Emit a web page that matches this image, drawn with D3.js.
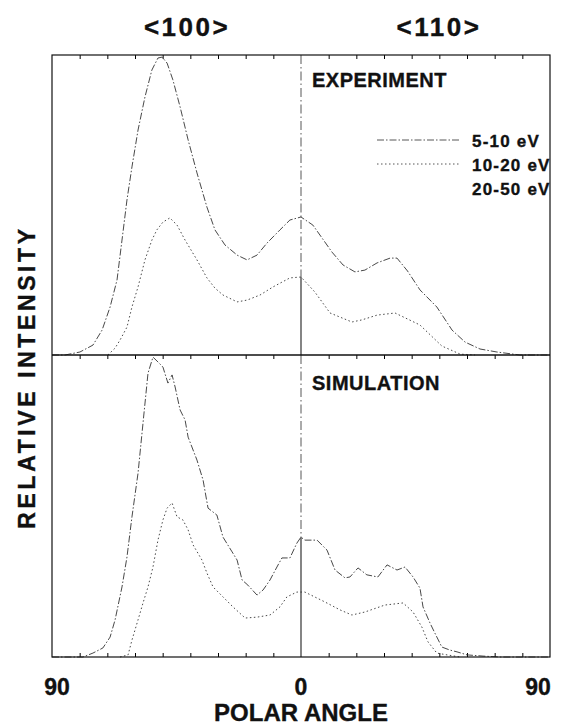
<!DOCTYPE html>
<html>
<head>
<meta charset="utf-8">
<script src="https://cdn.jsdelivr.net/npm/d3@7"></script>
<style>
  body { margin: 0; background: #fff; }
  text { font-family: "Liberation Sans", Arial, sans-serif; font-weight: bold; fill: #111; stroke: #111; stroke-width: 0.35px; }
</style>
</head>
<body>
<svg id="chart" width="563" height="726"></svg>
<script>
// labels
var directions = ["<100>", "<110>"];
var panelNames = ["EXPERIMENT", "SIMULATION"];
var energyBands = ["5-10 eV", "10-20 eV", "20-50 eV"];
var minorTicks = [-80, -70, -60, -50, -40, -30, -20, -10, 10, 20, 30, 40, 50, 60, 70, 80];
var labelTicks = [-90, 0, 90];

// [polar angle (deg, <100> side negative), relative intensity]
var exp510 = [[-90,0],[-85.3,0],[-79.9,0.01],[-75.2,0.033],[-71.9,0.083],[-69,0.16],[-66.5,0.25],
  [-64.7,0.383],[-62.9,0.517],[-61.1,0.627],[-58.9,0.75],[-56.4,0.86],[-53.9,0.95],[-51.7,0.99],
  [-50.2,0.993],[-48.4,0.973],[-46.3,0.917],[-43.7,0.827],[-40.8,0.717],[-37.6,0.607],[-34,0.493],
  [-31.1,0.417],[-27.5,0.367],[-23.1,0.333],[-19.5,0.317],[-15.9,0.333],[-12.3,0.373],[-7.6,0.417],
  [-4,0.45],[0,0.46],[4.3,0.433],[7.6,0.39],[11.2,0.343],[15.2,0.3],[19.5,0.277],[23.1,0.283],
  [27.5,0.307],[32.2,0.323],[34.7,0.323],[38.5,0.28],[43,0.217],[49.1,0.16],[54.6,0.083],[59.3,0.043],
  [64.7,0.02],[70.8,0.01],[79.1,0],[90,0]];
var exp1020 = [[-69.8,0],[-67.2,0.023],[-65.4,0.05],[-62.9,0.093],[-61.1,0.16],[-58.9,0.227],
  [-56.4,0.317],[-53.9,0.383],[-52.1,0.417],[-49.9,0.443],[-47.4,0.457],[-44.8,0.433],[-41.9,0.383],
  [-37.6,0.317],[-34,0.257],[-31.1,0.223],[-28.2,0.2],[-23.1,0.177],[-19.5,0.183],[-14.8,0.2],
  [-10.1,0.227],[-4,0.257],[0,0.26],[5,0.21],[10.5,0.14],[18.4,0.11],[22,0.117],[27.5,0.133],
  [34,0.14],[43,0.1],[50.9,0.03],[57.5,0.003],[62.9,0]];
var sim510 = [[-90,0],[-78.8,0],[-75.2,0.013],[-71.6,0.03],[-69,0.066],[-67.2,0.123],[-64.7,0.232],
  [-62.9,0.331],[-61.1,0.464],[-58.9,0.609],[-57.1,0.775],[-55.3,0.94],[-53.5,0.993],[-51.7,0.977],
  [-49.9,0.96],[-48.1,0.907],[-46.6,0.934],[-45.5,0.894],[-43.7,0.818],[-41.9,0.785],[-40.8,0.728],
  [-37.6,0.652],[-35.4,0.586],[-33.6,0.493],[-30.4,0.47],[-28.2,0.397],[-24.9,0.348],[-23.1,0.321],
  [-21.3,0.255],[-19.2,0.238],[-15.9,0.205],[-13.7,0.222],[-11.2,0.255],[-8.7,0.298],[-6.9,0.328],
  [-4,0.328],[-1.5,0.377],[0,0.397],[1.4,0.387],[5.8,0.387],[9.4,0.354],[12.3,0.288],[15.9,0.262],
  [17.7,0.265],[20.6,0.295],[23.8,0.272],[27.8,0.265],[31.1,0.305],[34.7,0.288],[37.6,0.298],
  [40.5,0.265],[43,0.228],[44.1,0.166],[46.6,0.113],[48.4,0.079],[50.9,0.033],[53.8,0.023],
  [56.4,0.017],[60,0.007],[65.8,0.003],[71.9,0],[90,0]];
var sim1020 = [[-65.4,0],[-62.5,0.007],[-61.1,0.056],[-58.9,0.123],[-57.1,0.179],[-55.3,0.232],
  [-53.5,0.298],[-51.7,0.387],[-49.9,0.454],[-48.4,0.493],[-46.6,0.51],[-44.8,0.464],[-42.7,0.454],
  [-40.8,0.421],[-39,0.371],[-35.8,0.321],[-34,0.278],[-31.8,0.232],[-28.2,0.199],[-24.6,0.166],
  [-20.2,0.129],[-15.9,0.132],[-11.2,0.139],[-7.6,0.166],[-5.1,0.199],[-1.5,0.215],[0,0.215],
  [1.4,0.215],[8.7,0.182],[14.1,0.156],[18.4,0.139],[23.1,0.149],[30.3,0.172],[36.9,0.179],
  [40.5,0.149],[43.7,0.099],[45.9,0.05],[49.1,0.013],[52.8,0.007],[57.5,0]];

var svg = d3.select("#chart");
var left = 52, right = 550, frameTop = 55, mid = 355, bottom = 657;

var x = d3.scaleLinear().domain([-90, 90]).range([left, right]);
var panels = [
  { name: panelNames[0], y: d3.scaleLinear().domain([0, 1]).range([mid, frameTop]), series: [exp510, exp1020], solid: 1 },
  { name: panelNames[1], y: d3.scaleLinear().domain([0, 1]).range([bottom, mid]), series: [sim510, sim1020], solid: 0 }
];
var dashes = ["7,2,1.5,2", "1.5,2.5"];

panels.forEach(function (p, i) {
  var y = p.y;
  var y0 = y.range()[0], y1 = y.range()[1];

  // ticks along top edge, pointing in
  svg.append("g").attr("transform", "translate(0," + y1 + ")")
    .call(d3.axisBottom(x).tickValues(minorTicks).tickSize(4).tickFormat(""))
    .call(function (g) { g.select(".domain").remove(); });
  if (i == 1) {
    svg.append("g").attr("transform", "translate(0," + y0 + ")")
      .call(d3.axisTop(x).tickValues(minorTicks).tickSize(4).tickFormat(""))
      .call(function (g) { g.select(".domain").remove(); });
  }

  // centre line: dashed above, solid below the chosen curve
  var s = p.series[p.solid].filter(function (d) { return d[0] == 0; })[0];
  svg.append("line").attr("x1", x(0)).attr("x2", x(0)).attr("y1", y1).attr("y2", y(s[1]))
    .attr("stroke", "#444").attr("stroke-width", 0.9).attr("stroke-dasharray", "9,3,1.5,3");
  svg.append("line").attr("x1", x(0)).attr("x2", x(0)).attr("y1", y(s[1])).attr("y2", y0)
    .attr("stroke", "#333").attr("stroke-width", 1.2);

  var line = d3.line().x(function (d) { return x(d[0]); }).y(function (d) { return y(d[1]); });
  p.series.forEach(function (ser, k) {
    svg.append("path").datum(ser).attr("d", line)
      .attr("fill", "none").attr("stroke", "#333").attr("stroke-width", 0.9)
      .attr("stroke-dasharray", dashes[k]);
  });

  svg.append("text").attr("x", 312).attr("y", y1 + (i == 0 ? 32 : 35))
    .style("font-size", "20px").style("letter-spacing", "0.5px").text(p.name);
});

// frame
svg.append("rect").attr("x", left).attr("y", frameTop).attr("width", right - left).attr("height", bottom - frameTop)
  .attr("fill", "none").attr("stroke", "#111").attr("stroke-width", 1.2);
svg.append("line").attr("x1", left).attr("x2", right).attr("y1", mid).attr("y2", mid)
  .attr("stroke", "#111").attr("stroke-width", 1.4);

// legend
var legend = svg.append("g");
energyBands.forEach(function (b, k) {
  var ly = 147 + k * 24;
  if (k < 2) {
    legend.append("line").attr("x1", 377).attr("x2", 459).attr("y1", ly - 7).attr("y2", ly - 7)
      .attr("stroke", "#444").attr("stroke-width", 0.9).attr("stroke-dasharray", dashes[k]);
  }
  legend.append("text").attr("x", 472).attr("y", ly)
    .style("font-size", "17px").style("letter-spacing", "1.2px").text(b);
});

// direction labels
svg.selectAll(".dir").data(directions).enter().append("text")
  .attr("x", function (d, i) { return i == 0 ? 187 : 439; }).attr("y", 36)
  .attr("text-anchor", "middle").style("font-size", "26px").style("letter-spacing", "2.5px")
  .text(function (d) { return d; });

// angle labels
svg.selectAll(".tl").data(labelTicks).enter().append("text")
  .attr("x", function (d) { return x(d) + (d < 0 ? 5 : d > 0 ? -12 : 0); }).attr("y", 695)
  .attr("text-anchor", "middle").style("font-size", "23px")
  .text(function (d) { return Math.abs(d); });

svg.append("text").attr("x", x(0)).attr("y", 721).attr("text-anchor", "middle")
  .style("font-size", "24px").text("POLAR ANGLE");

svg.append("text").attr("transform", "translate(35,377) rotate(-90)").attr("text-anchor", "middle")
  .style("font-size", "23px").style("letter-spacing", "3.6px").text("RELATIVE INTENSITY");
</script>
</body>
</html>
